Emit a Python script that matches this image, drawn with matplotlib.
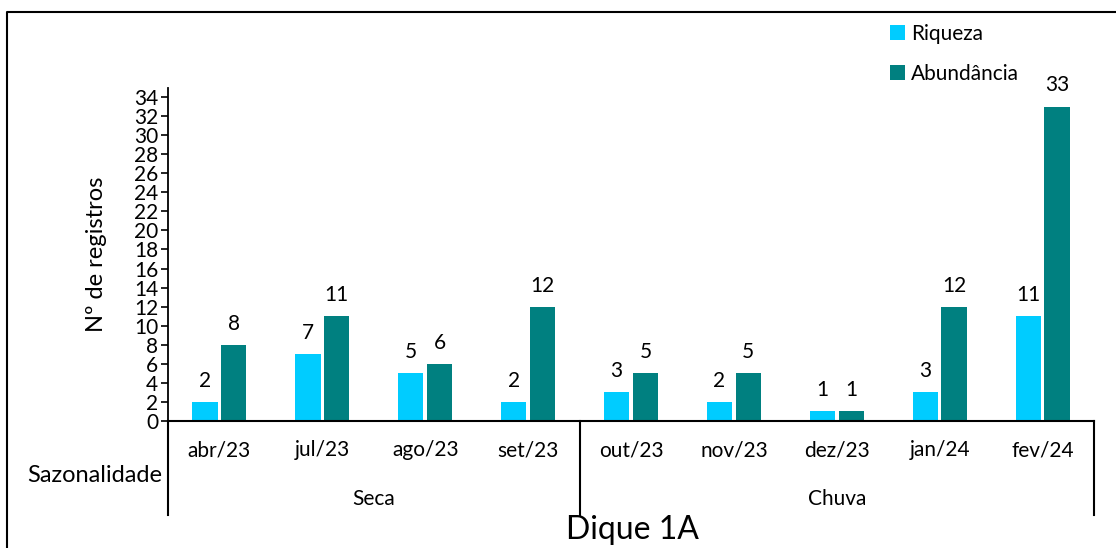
import numpy as np
import matplotlib
matplotlib.use('Agg')
from matplotlib import pyplot as plt
from matplotlib.lines import Line2D

plt.rcParams['font.family'] = ['Lato', 'DejaVu Sans']

months = ['abr/23', 'jul/23', 'ago/23', 'set/23', 'out/23', 'nov/23', 'dez/23', 'jan/24', 'fev/24']
riqueza = [2, 7, 5, 2, 3, 2, 1, 3, 11]
abundancia = [8, 11, 6, 12, 5, 5, 1, 12, 33]
seasons = ['Seca', 'Chuva']
season_sizes = [4, 5]

c_riq = '#00CCFF'
c_abu = '#008080'

W, H = 1116, 548
fig = plt.figure(figsize=(W / 100, H / 100), dpi=100)
ax = fig.add_axes([168 / W, 1 - 421 / H, (1094 - 168) / W, (421 - 87.5) / H])

x = np.arange(len(months))
bw = 0.245
off = 0.14
b1 = ax.bar(x - off, riqueza, bw, color=c_riq, label='Riqueza')
b2 = ax.bar(x + off, abundancia, bw, color=c_abu, label='Abundância')
for bars, vals in [(b1, riqueza), (b2, abundancia)]:
    for b, v in zip(bars, vals):
        ax.annotate(str(v), (b.get_x() + b.get_width() / 2, v), xytext=(0, 8),
                    textcoords='offset points', ha='center', va='bottom', fontsize=15)

ax.set_xlim(-0.5, len(months) - 0.5)
ax.set_ylim(0, 35)
ax.set_yticks(np.arange(0, 35, 2))
ax.tick_params(axis='y', labelsize=15, length=5, width=1.2, pad=2, direction='out')
ax.set_xticks(x)
ax.set_xticklabels(months, fontsize=15)
ax.tick_params(axis='x', length=0, pad=14)
ax.spines['top'].set_visible(False)
ax.spines['right'].set_visible(False)
ax.spines['left'].set_linewidth(1.3)
ax.spines['bottom'].set_linewidth(1.5)
ax.set_ylabel('Nº de registros', fontsize=17)
ax.yaxis.set_label_coords(-0.066, 0.5)

# multi-level category axis
tr = ax.get_xaxis_transform()
edges = np.concatenate([[0], np.cumsum(season_sizes)]) - 0.5
for e in edges:
    ax.plot([e, e], [0, -0.282], transform=tr, color='black', lw=1.5, clip_on=False)
for i, s in enumerate(seasons):
    mid = (edges[i] + edges[i + 1]) / 2
    ax.text(mid, -0.234, s, transform=tr, ha='center', va='center', fontsize=15)

fig.text(27 / W, 1 - 475 / H, 'Sazonalidade', ha='left', va='center', fontsize=17)
fig.text(632 / W, 1 - 530 / H, 'Dique 1A', ha='center', va='center', fontsize=23)

fig.legend(handles=[b1, b2], loc='upper left', bbox_to_anchor=(890 / W, 1 - 24 / H),
           frameon=False, fontsize=15, handlelength=0.7, handleheight=0.7,
           handletextpad=0.3, labelspacing=0.95, borderaxespad=0, borderpad=0)

# outer frame (left and top edges visible)
fig.add_artist(Line2D([7 / W, 7 / W, 1.0], [0.0, 1 - 12 / H, 1 - 12 / H],
                      transform=fig.transFigure, color='black', lw=1.5))

fig.savefig('out.png', dpi=100)
